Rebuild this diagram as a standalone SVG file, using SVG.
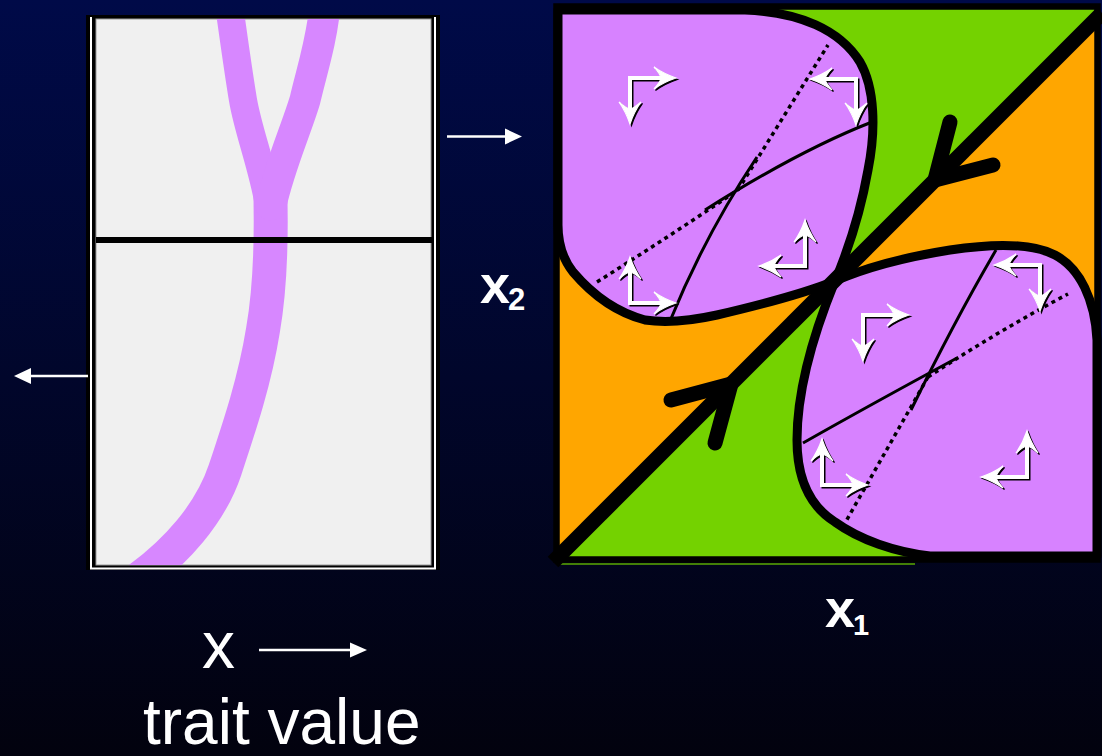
<svg xmlns="http://www.w3.org/2000/svg" xmlns:xlink="http://www.w3.org/1999/xlink" width="1102" height="756" viewBox="0 0 1102 756">
<defs>
<linearGradient id="bg" x1="0" y1="0" x2="0" y2="1">
<stop offset="0" stop-color="#000a48"/>
<stop offset="1" stop-color="#02020e"/>
</linearGradient>
<clipPath id="lclip"><rect x="96" y="19" width="335" height="546"/></clipPath>
<g id="ca">
<path d="M34,0H0V34" fill="none" stroke-width="4"/>
<path d="M46,0Q34,-4 24,-11Q31,-3 31,0Q31,3 24,11Q34,4 46,0Z" stroke-width="1.2"/>
<path d="M0,46Q-4,34 -11,24Q-3,31 0,31Q3,31 11,24Q4,34 0,46Z" stroke-width="1.2"/>
</g>
<style>
.txt{fill:#fff;font-family:"Liberation Sans",Arial,Helvetica,sans-serif}
.b{font-weight:bold}
.blob{fill:#d782ff;stroke:#000;stroke-width:9;stroke-linejoin:round}
.solid{fill:none;stroke:#000;stroke-width:3}
.dot{fill:none;stroke:#000;stroke-width:3.5;stroke-dasharray:4 4}
.trait{fill:none;stroke:#d787ff;stroke-linecap:round;stroke-linejoin:round}
.wl{stroke:#fff;stroke-width:2.5;fill:none}
.sh{fill:#000;stroke:#000}
.wa{fill:#fff;stroke:#fff}
.chev{fill:none;stroke:#000;stroke-width:15;stroke-linecap:round;stroke-linejoin:round}
</style>
</defs>
<rect x="0" y="0" width="1102" height="756" fill="url(#bg)"/>

<g id="left-panel">
<rect x="86" y="15" width="354" height="555" fill="#000"/>
<path d="M91,17V568.5H435V17" fill="none" stroke="#fff" stroke-width="2"/>
<rect x="96" y="19" width="335" height="546" fill="#f0f0f0" stroke="#9a9a9a" stroke-width="1"/>
<g clip-path="url(#lclip)">
<path class="trait" stroke-width="34" d="M140,578 C175,552 210,515 225,470 C240,425 255,380 263,330 C270,290 272,240 270,180"/>
<path class="trait" stroke-width="28" d="M269,205 C262,165 248,130 243,100 C238,70 234,40 229,5"/>
<path class="trait" stroke-width="31" d="M271,205 C280,165 296,130 305,100 C312,70 322,40 325,5"/>
</g>
<line x1="96" y1="240" x2="433" y2="240" stroke="#000" stroke-width="6"/>
</g>

<g id="arrows-side">
<line class="wl" x1="447" y1="136.5" x2="506" y2="136.5"/>
<polygon points="522,136.5 505,128.5 505,144.5" fill="#fff"/>
<line class="wl" x1="88" y1="376" x2="30" y2="376"/>
<polygon points="14,376 31,368 31,384" fill="#fff"/>
<line class="wl" x1="259" y1="650" x2="351" y2="650"/>
<polygon points="367,650 350,642.5 350,657.5" fill="#fff"/>
</g>

<g id="right-panel">
<polygon points="557,7 1097,7 1097,15 557,559" fill="#74d200"/>
<polygon points="1097,15 1097,559 557,559" fill="#ffa600"/>
<path d="M557,200 L557,559 L836,280 L760,292 L640,300 Z" fill="#ffa600"/>
<path d="M836,280 L557,559 L930,559 L850,500 L828,400 L838,300 Z" fill="#74d200"/>
<line x1="560" y1="564" x2="915" y2="564" stroke="#5aa800" stroke-width="1.5"/>

<g id="blob-upper">
<path class="blob" d="M558,10 L745,10 C800,12 840,30 860,62 C875,88 876,130 868,170 C860,215 846,255 835,281 C800,295 760,305 717,315 C690,321 665,323 645,320 C615,312 590,292 573,272 C562,258 558,240 558,225 Z"/>
<path class="dot" d="M597,282 Q670,236 738,190"/>
<path class="dot" d="M738,190 L828,45"/>
<path class="solid" d="M705,210 Q800,150 872,122"/>
<path class="solid" d="M670,321 Q705,235 757,157"/>
</g>
<g id="blob-lower">
<path class="blob" d="M835,281 C860,270 900,258 950,250 C990,244 1030,242 1055,255 C1080,268 1095,300 1097,340 L1097,556 L930,556 C895,552 860,540 835,522 C808,505 797,475 797,440 C797,390 815,330 835,281 Z"/>
<path class="dot" d="M928,377 Q1000,330 1068,294"/>
<path class="dot" d="M928,377 L845,523"/>
<path class="solid" d="M803,443 Q870,405 957,358"/>
<path class="solid" d="M996,250 Q955,320 911,410"/>
</g>

<g id="flow-arrows">
<use xlink:href="#ca" class="sh" transform="translate(631.5,79.5)"/>
<use xlink:href="#ca" class="wa" transform="translate(630,78)"/>
<use xlink:href="#ca" class="sh" transform="translate(857.5,80.5) scale(-1,1)"/>
<use xlink:href="#ca" class="wa" transform="translate(856,79) scale(-1,1)"/>
<use xlink:href="#ca" class="sh" transform="translate(806.5,267.5) scale(-1,-1)"/>
<use xlink:href="#ca" class="wa" transform="translate(805,266) scale(-1,-1)"/>
<use xlink:href="#ca" class="sh" transform="translate(631.5,304.5) scale(1,-1)"/>
<use xlink:href="#ca" class="wa" transform="translate(630,303) scale(1,-1)"/>
<use xlink:href="#ca" class="sh" transform="translate(864.5,316.5)"/>
<use xlink:href="#ca" class="wa" transform="translate(863,315)"/>
<use xlink:href="#ca" class="sh" transform="translate(1041.5,266.5) scale(-1,1)"/>
<use xlink:href="#ca" class="wa" transform="translate(1040,265) scale(-1,1)"/>
<use xlink:href="#ca" class="sh" transform="translate(1028.5,478.5) scale(-1,-1)"/>
<use xlink:href="#ca" class="wa" transform="translate(1027,477) scale(-1,-1)"/>
<use xlink:href="#ca" class="sh" transform="translate(823.5,486.5) scale(1,-1)"/>
<use xlink:href="#ca" class="wa" transform="translate(822,485) scale(1,-1)"/>
</g>

<g id="diagonal">
<line x1="553" y1="562" x2="1102" y2="13" stroke="#000" stroke-width="15"/>
<path class="chev" d="M950,122 L935,180 L993,165"/>
<path class="chev" d="M671,400 L731,384 L715,443"/>
</g>
<rect x="556.5" y="6.5" width="541" height="553" fill="none" stroke="#000" stroke-width="6.5"/>
</g>

<g id="labels">
<text class="txt b" x="480" y="303" font-size="54">x</text>
<text class="txt b" x="508" y="310" font-size="31">2</text>
<text class="txt b" x="825" y="627" font-size="54">x</text>
<text class="txt b" x="853" y="635" font-size="29">1</text>
<text class="txt" x="202" y="668" font-size="66">x</text>
<text class="txt" x="143" y="744" font-size="64">trait value</text>
</g>
</svg>
